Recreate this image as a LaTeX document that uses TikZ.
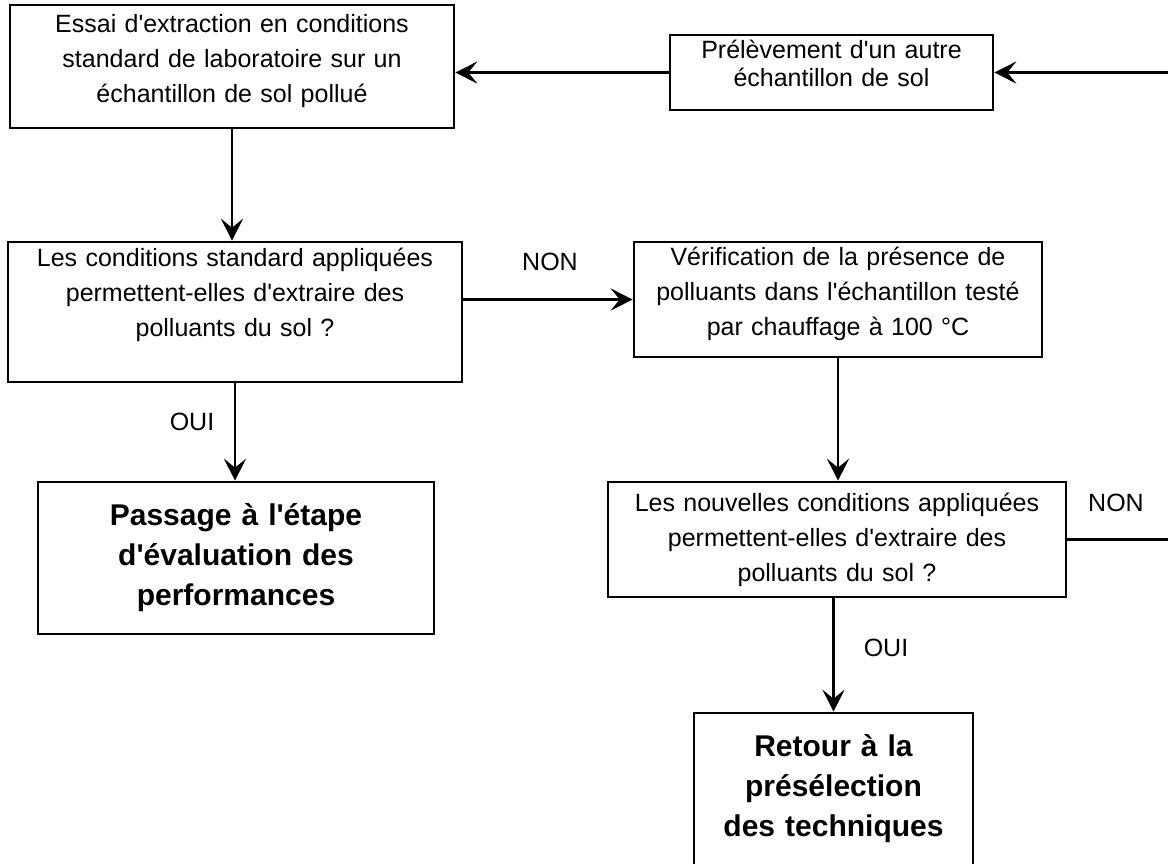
\documentclass[tikz,border=0pt]{standalone}
\usepackage{fontspec}
\setmainfont{Liberation Sans}[Ligatures=TeXOff]
\usetikzlibrary{arrows.meta}

% room below the last line of a box
\newcommand{\dessous}[1]{\rule[-#1pt]{0pt}{1pt}}

\tikzset{
  box/.style={draw, line width=2.6pt, inner sep=0pt, align=center,
    font=\fontsize{25}{35}\selectfont},
  bigbox/.style={box, font=\fontsize{30}{40}\selectfont\bfseries},
  flow/.style={line width=2.6pt, -{Stealth[length=22pt,width=22pt,inset=9pt]}},
  answer/.style={font=\fontsize{25}{28}\selectfont}
}

\begin{document}
\begin{tikzpicture}[x=1pt,y=-1pt]
\clip (0,0) rectangle (1168,863);

% left column
\node[box, text width=444pt, minimum height=123pt] (essai) at (232,66.5)
  {Essai d'extraction en conditions\\standard de laboratoire sur un\\échantillon de sol pollué\dessous{17}};
\node[box, text width=454pt, minimum height=140pt] (standard) at (235,312)
  {Les conditions standard appliquées\\permettent-elles d'extraire des\\polluants du sol ?\dessous{39}};
\node[bigbox, text width=396pt, minimum height=152pt] (passage) at (236,558)
  {Passage à l'étape\\d'évaluation des\\performances};

% right column
\node[box, text width=323pt, minimum height=75pt, font=\fontsize{25}{28}\selectfont] (prelev) at (831.5,72.5)
  {Prélèvement d'un autre\\échantillon de sol\dessous{18}};
\node[box, text width=408pt, minimum height=115pt] (verif) at (838,299.5)
  {Vérification de la présence de\\polluants dans l'échantillon testé\\par chauffage à 100 °C\dessous{16}};
\node[box, text width=458pt, minimum height=115pt] (nouvelles) at (837,539.5)
  {Les nouvelles conditions appliquées\\permettent-elles d'extraire des\\polluants du sol ?};
\node[bigbox, text width=279pt, minimum height=174pt] (retour) at (833.5,800)
  {Retour à la\\présélection\\des techniques\dessous{29}};

% answers
\node[answer] (non1) at (550,262) {NON};
\node[answer] (oui1) at (192,422) {OUI};
\node[answer] (non2) at (1116,503) {NON};
\node[answer] (oui2) at (886,648) {OUI};

% connectors
\coordinate (boucle) at (1200,300);
\draw[flow] (essai.south) -- (essai.south |- standard.north);
\draw[flow] (standard.south) -- (standard.south |- passage.north);
\draw[flow] (standard.east |- verif.west) -- (verif.west);
\draw[flow] (verif.south) -- (verif.south |- nouvelles.north);
\draw[flow] (nouvelles.south -| retour.north) -- (retour.north);
\draw[flow] (prelev.west) -- (prelev.west -| essai.east);
\draw[flow] (nouvelles.east) -| (boucle) |- (prelev.east);
\end{tikzpicture}
\end{document}
